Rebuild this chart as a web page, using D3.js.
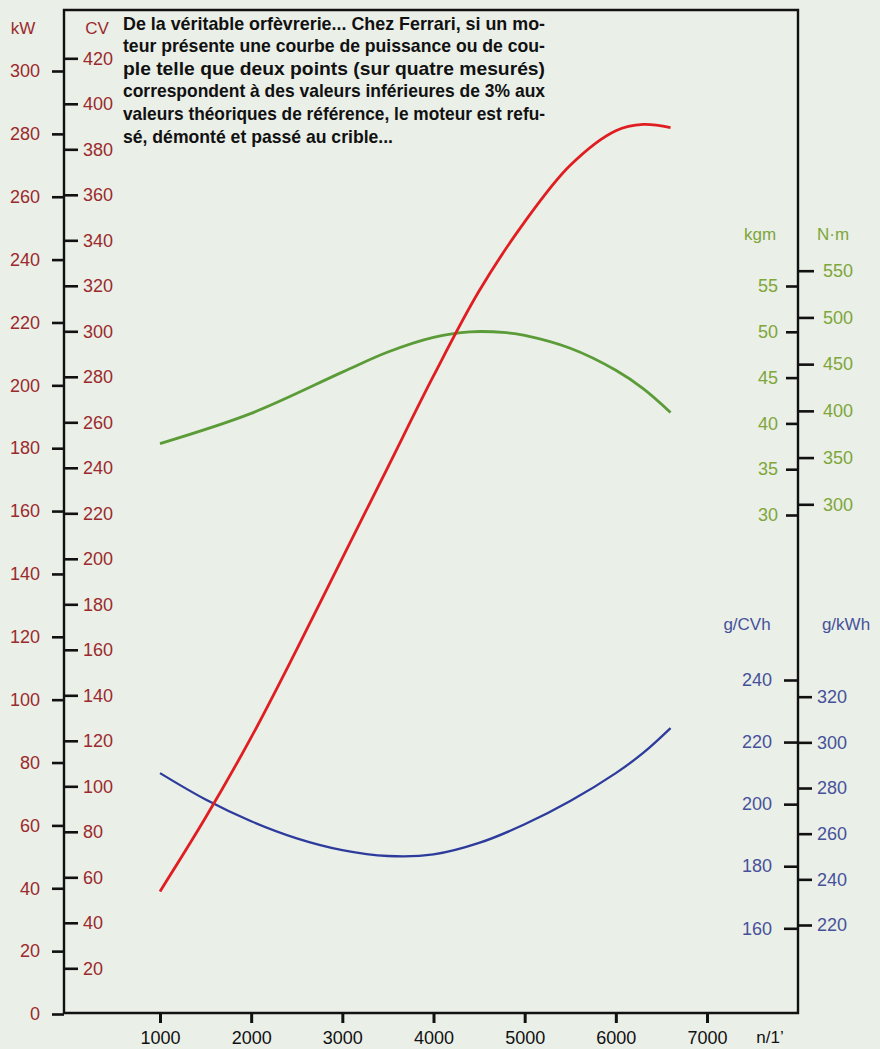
<!DOCTYPE html>
<html>
<head>
<meta charset="utf-8">
<script src="https://cdn.jsdelivr.net/npm/d3@7"></script>
<style>
  html, body { margin: 0; padding: 0; background: #eaefe8; }
  svg { display: block; }
  text { font-family: "Liberation Sans", Arial, sans-serif; }
</style>
</head>
<body>
<svg id="chart" width="880" height="1049"></svg>
<script>
// ---------- DATA ----------
const rpm      = [1000, 1500, 2000, 2500, 3000, 3500, 4000, 4500, 5000, 5500, 6000, 6300, 6600];
const powerKW  = [39, 62.5, 88, 116, 145, 174, 203, 230, 252, 270, 281, 283, 282];

const torqueRpm = [1000, 2000, 3000, 3500, 4000, 4400, 4800, 5000, 5500, 6000, 6300, 6600];
const torqueKgm = [37.8, 41.1, 45.6, 47.8, 49.4, 50.0, 49.9, 49.6, 48.2, 45.8, 43.8, 41.2];

const consoRpm  = [1000, 1500, 2000, 2500, 3000, 3500, 4000, 4500, 5000, 5500, 6000, 6300, 6600];
const consoGCVh = [210, 201.5, 194.5, 189, 185.2, 183.3, 183.8, 187.5, 193.5, 201, 210, 216.5, 224.5];

const rpmTicks  = [1000, 2000, 3000, 4000, 5000, 6000, 7000];
const kwTicks   = d3.range(0, 301, 20);
const cvTicks   = d3.range(20, 421, 20);
const kgmTicks  = [30, 35, 40, 45, 50, 55];
const nmTicks   = [300, 350, 400, 450, 500, 550];
const gcvhTicks = [160, 180, 200, 220, 240];
const gkwhTicks = [220, 240, 260, 280, 300, 320];

const noteLines = [
  "De la véritable orfèvrerie... Chez Ferrari, si un mo-",
  "teur présente une courbe de puissance ou de cou-",
  "ple telle que deux points (sur quatre mesurés)",
  "correspondent à des valeurs inférieures de 3% aux",
  "valeurs théoriques de référence, le moteur est refu-",
  "sé, démonté et passé au crible..."
];

// ---------- LAYOUT ----------
const svg = d3.select("#chart");
const leftX = 64, rightX = 798, topY = 10, bottomY = 1013;

const x     = d3.scaleLinear().domain([1000, 7000]).range([160, 707]);
const yKW   = d3.scaleLinear().domain([0, 300]).range([1014, 71]);
const yCV   = d3.scaleLinear().domain([0, 420]).range([1013.8, 58.3]);
const yKgm  = d3.scaleLinear().domain([30, 55]).range([515, 286]);
const yNm   = d3.scaleLinear().domain([300, 550]).range([504.3, 270.7]);
const yGCVh = d3.scaleLinear().domain([160, 240]).range([928.3, 680]);
const yGkWh = d3.scaleLinear().domain([220, 320]).range([925, 696.7]);

const RED_LBL = "#9b2a2c", GREEN_LBL = "#7ea63a", BLUE_LBL = "#47519a";

// frame
svg.append("path")
  .attr("d", `M${leftX},${bottomY} L${leftX},${topY} L${rightX},${topY} L${rightX},${bottomY} Z`)
  .attr("fill", "none").attr("stroke", "#111").attr("stroke-width", 2.4);

function styleAxis(g, color, tickW) {
  g.select(".domain").remove();
  g.selectAll(".tick line").attr("stroke", "#111").attr("stroke-width", tickW || 2.6);
  g.selectAll(".tick text").attr("fill", color).attr("font-size", 18)
    .attr("font-family", "Liberation Sans, Arial, sans-serif");
}

// kW axis
svg.append("g").attr("transform", `translate(${leftX},0)`)
  .call(d3.axisLeft(yKW).tickValues(kwTicks).tickSize(12).tickPadding(12).tickFormat(d3.format("d")))
  .call(g => styleAxis(g, RED_LBL));
// CV axis
svg.append("g").attr("transform", `translate(${leftX},0)`)
  .call(d3.axisRight(yCV).tickValues(cvTicks).tickSize(14).tickPadding(5).tickFormat(d3.format("d")))
  .call(g => styleAxis(g, RED_LBL));
// kgm axis
svg.append("g").attr("transform", `translate(${rightX},0)`)
  .call(d3.axisLeft(yKgm).tickValues(kgmTicks).tickSize(12).tickPadding(8).tickFormat(d3.format("d")))
  .call(g => styleAxis(g, GREEN_LBL));
// N·m axis
svg.append("g").attr("transform", `translate(${rightX},0)`)
  .call(d3.axisRight(yNm).tickValues(nmTicks).tickSize(16).tickPadding(9).tickFormat(d3.format("d")))
  .call(g => styleAxis(g, GREEN_LBL));
// g/CVh axis
svg.append("g").attr("transform", `translate(${rightX},0)`)
  .call(d3.axisLeft(yGCVh).tickValues(gcvhTicks).tickSize(14).tickPadding(12).tickFormat(d3.format("d")))
  .call(g => styleAxis(g, BLUE_LBL));
// g/kWh axis
svg.append("g").attr("transform", `translate(${rightX},0)`)
  .call(d3.axisRight(yGkWh).tickValues(gkwhTicks).tickSize(14).tickPadding(5).tickFormat(d3.format("d")))
  .call(g => styleAxis(g, BLUE_LBL));
// rpm axis
svg.append("g").attr("transform", `translate(0,${bottomY})`)
  .call(d3.axisBottom(x).tickValues(rpmTicks).tickSize(10).tickPadding(8).tickFormat(d3.format("d")))
  .call(g => styleAxis(g, "#111", 3));

// unit labels
const units = [
  {t: "kW", x: 23, y: 34, c: RED_LBL},
  {t: "CV", x: 97, y: 34, c: RED_LBL},
  {t: "kgm", x: 760, y: 240, c: GREEN_LBL},
  {t: "N\u00b7m", x: 833, y: 240, c: GREEN_LBL},
  {t: "g/CVh", x: 747, y: 630, c: BLUE_LBL},
  {t: "g/kWh", x: 846, y: 630, c: BLUE_LBL},
  {t: "n/1\u2019", x: 770, y: 1043, c: "#111"}
];
svg.selectAll("text.unit").data(units).enter().append("text")
  .attr("class", "unit")
  .attr("x", d => d.x).attr("y", d => d.y)
  .attr("text-anchor", "middle")
  .attr("font-size", 17).attr("fill", d => d.c)
  .text(d => d.t);

// curves
const line = (ys) => d3.line().curve(d3.curveCatmullRom.alpha(0.5)).x(d => x(d[0])).y(d => ys(d[1]));

svg.append("path")
  .datum(consoRpm.map((r, i) => [r, consoGCVh[i]]))
  .attr("d", line(yGCVh))
  .attr("fill", "none").attr("stroke", "#2d3b9c").attr("stroke-width", 2.3);

svg.append("path")
  .datum(torqueRpm.map((r, i) => [r, torqueKgm[i]]))
  .attr("d", line(yKgm))
  .attr("fill", "none").attr("stroke", "#5b9c38").attr("stroke-width", 2.8);

svg.append("path")
  .datum(rpm.map((r, i) => [r, powerKW[i]]))
  .attr("d", line(yKW))
  .attr("fill", "none").attr("stroke", "#e01e22").attr("stroke-width", 2.8);

// note text
const noteX = 123, noteW = 422;
const note = svg.append("g");
noteLines.forEach((t, i) => {
  const el = note.append("text")
    .attr("x", noteX).attr("y", 29.5 + i * 22.6)
    .attr("font-size", 18.5).attr("font-weight", "bold").attr("fill", "#111")
    .text(t);
  if (i < noteLines.length - 1) {
    el.attr("textLength", noteW).attr("lengthAdjust", "spacingAndGlyphs");
  } else {
    el.attr("textLength", 270).attr("lengthAdjust", "spacingAndGlyphs");
  }
});
</script>
</body>
</html>
